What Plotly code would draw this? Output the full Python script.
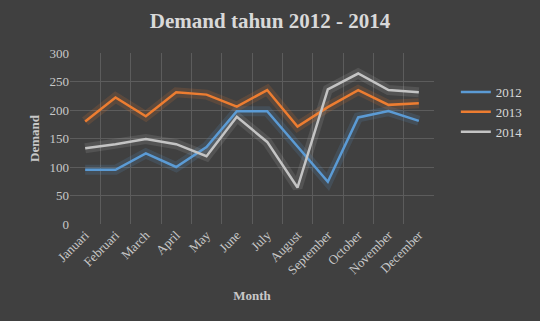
import plotly.graph_objects as go

months = ["Januari", "Februari", "March", "April", "May", "June", "July",
          "August", "September", "October", "November", "December"]
d2012 = [95, 95, 124, 100, 135, 198, 198, 135, 74, 187, 198, 181]
d2013 = [180, 222, 189, 231, 227, 206, 235, 171, 205, 235, 209, 212]
d2014 = [133, 140, 149, 140, 119, 188, 144, 64, 236, 264, 235, 231]

series = [("2012", d2012, "#5b9bd5", "rgba(91,155,213,0.16)"),
          ("2013", d2013, "#ed7d31", "rgba(237,125,49,0.16)"),
          ("2014", d2014, "#c4c4c4", "rgba(220,220,220,0.12)")]

fig = go.Figure()
# glow layers
for name, vals, col, glow in series:
    fig.add_trace(go.Scatter(x=months, y=vals, mode="lines",
                             line=dict(color=glow, width=10),
                             showlegend=False, hoverinfo="skip"))
for name, vals, col, glow in series:
    fig.add_trace(go.Scatter(x=months, y=vals, mode="lines", name=name,
                             line=dict(color=col, width=2.5)))

font = "Liberation Serif, Times New Roman, serif"
fig.update_layout(
    width=540, height=321,
    paper_bgcolor="#404040", plot_bgcolor="#404040",
    margin=dict(l=70, r=97, t=53, b=97),
    font=dict(family=font, color="#d0d0d0", size=12),
    title=dict(text="<b>Demand tahun 2012 - 2014</b>", x=0.5, xanchor="center",
               y=0.935, yanchor="middle",
               font=dict(family=font, size=21, color="#d9d9d9")),
    legend=dict(x=1.06, y=0.86, xanchor="left", yanchor="top",
                bgcolor="rgba(0,0,0,0)", font=dict(size=13, color="#d9d9d9"),
                itemwidth=30, tracegroupgap=0),
    showlegend=True,
)
fig.update_xaxes(
    type="category", range=[-0.5, 11.5], tickson="boundaries",
    showgrid=True, gridcolor="#5c5c5c", gridwidth=1,
    tickangle=-45, ticks="", showline=False, zeroline=False,
    tickfont=dict(size=13, color="#c8c8c8"),
    title=dict(text="<b>Month</b>", font=dict(size=13, color="#c8c8c8"), standoff=14),
)
fig.update_yaxes(
    range=[0, 300], dtick=50, showgrid=True, gridcolor="#5c5c5c", gridwidth=1,
    zeroline=False, ticks="", tickfont=dict(size=13, color="#c8c8c8"),
    title=dict(text="<b>Demand</b>", font=dict(size=13, color="#c8c8c8"), standoff=6),
)

fig.write_html("out.html")
